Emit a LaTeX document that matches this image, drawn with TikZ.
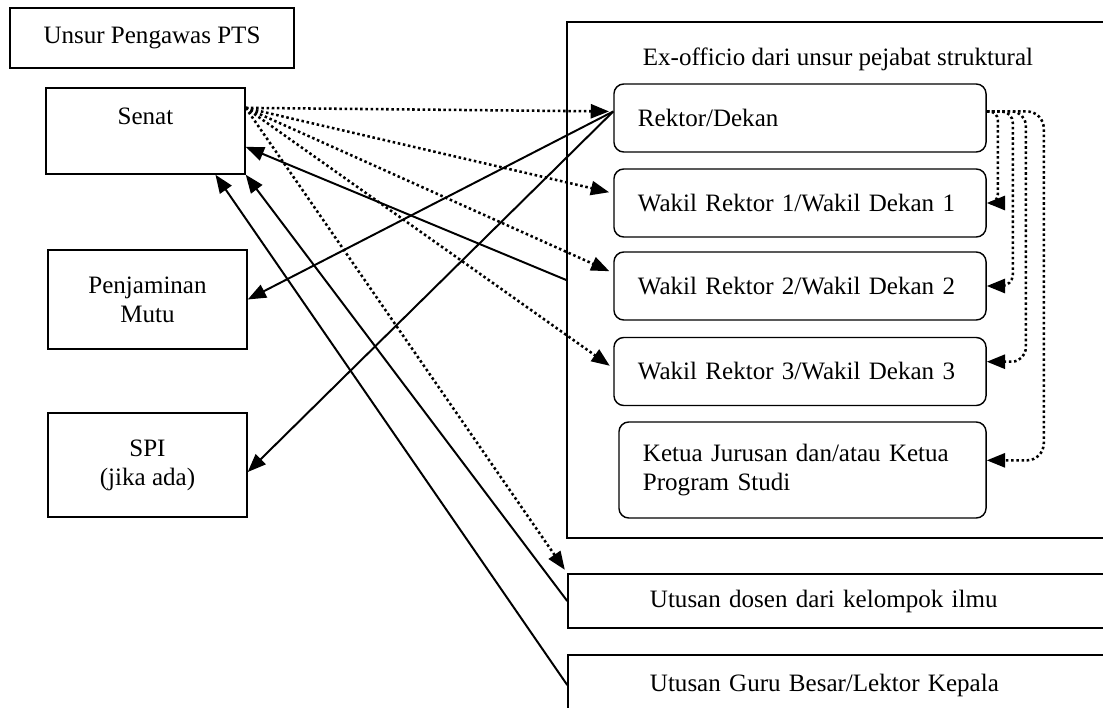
\documentclass[tikz,border=0pt]{standalone}
\usepackage{fontspec}
\setmainfont{Liberation Serif}
\usetikzlibrary{calc}
\usetikzlibrary{arrows.meta}

\begin{document}
\begin{tikzpicture}[x=0.025cm,y=-0.025cm,
  font=\fontsize{17.8}{20.8}\selectfont,
  kotak/.style={draw,line width=1pt},
  kotakbulat/.style={kotak,rounded corners=7pt,align=left,inner xsep=0.6cm,minimum height=1.7cm,text width=8.1cm},
  panah/.style={line width=1.4pt,-{Triangle[length=13pt,width=10pt]}},
  titik/.style={panah,line width=1.8pt,dash pattern=on 1.8pt off 1.9pt,shorten >=3pt}]
  \useasboundingbox (0,0) rectangle (1103,708);
  \clip (0,0) rectangle (1103,708);
  \node[kotak,minimum width=7.1cm,minimum height=1.5cm] (pengawas) at (152,38) {Unsur Pengawas PTS};
  \node[kotak,minimum width=4.975cm,minimum height=2.15cm,text height=0.425cm,text depth=0.725cm] (senat) at (145.5,131) {Senat};
  \node[kotak,minimum width=4.975cm,minimum height=2.475cm,align=center] (mutu) at (147.5,299.5) {Penjaminan\\Mutu};
  \node[kotak,minimum width=4.975cm,minimum height=2.6cm,align=center] (spi) at (147.5,465) {SPI\\(jika ada)};
  \node[kotak,minimum width=13.8cm,minimum height=12.9cm] (struktural) at (843,280) {};
  \node (judul) at (838,59) {Ex-officio dari unsur pejabat struktural};
  \node[kotakbulat] (rektor) at (800,118) {Rektor/Dekan};
  \node[kotakbulat] (wr1) at (800,203) {Wakil Rektor 1/Wakil Dekan 1};
  \node[kotakbulat] (wr2) at (800,286) {Wakil Rektor 2/Wakil Dekan 2};
  \node[kotakbulat] (wr3) at (800,371.5) {Wakil Rektor 3/Wakil Dekan 3};
  \node[kotakbulat,text width=7.975cm,minimum height=2.4cm] (ketua) at (802.5,470) {Ketua Jurusan dan/atau Ketua\\Program Studi};
  \node[kotak,minimum width=13.8cm,minimum height=1.35cm,align=left,inner xsep=2.05cm,text width=9.7cm] (dosen) at (844,601) {Utusan dosen dari kelompok ilmu};
  \node[kotak,minimum width=13.8cm,minimum height=1.5cm,align=left,inner xsep=2.05cm,text width=9.7cm] (guru) at (844,685) {Utusan Guru Besar/Lektor Kepala};
  \draw[titik] (senat.13) -- (rektor.178);
  \draw[titik] (senat.13) -- (wr1.177);
  \draw[titik] (senat.13) -- (wr2.176);
  \draw[titik] (senat.13) -- (wr3.179);
  \draw[titik] (senat.13) -- (dosen.north west);
  \draw[panah] (rektor.178) -- (mutu.east);
  \draw[panah] (rektor.178) -- (spi.-4);
  \draw[panah] (struktural.west) -- (senat.-9);
  \draw[panah] (dosen.west) -- (senat.south east);
  \draw[panah] (guru.west) -- (senat.-32);
  \draw[titik,shorten >=0pt,rounded corners=6pt] (rektor.2) -| ($(wr1.east)+(11,0)$) -- (wr1.east);
  \draw[titik,shorten >=0pt,rounded corners=8pt] (rektor.2) -| ($(wr2.east)+(26,0)$) -- (wr2.east);
  \draw[titik,shorten >=0pt,rounded corners=10pt] (rektor.2) -| ($(wr3.3)+(39,0)$) -- (wr3.3);
  \draw[titik,shorten >=0pt,rounded corners=12pt] (rektor.2) -| ($(ketua.3)+(57,0)$) -- (ketua.3);
\end{tikzpicture}
\end{document}
